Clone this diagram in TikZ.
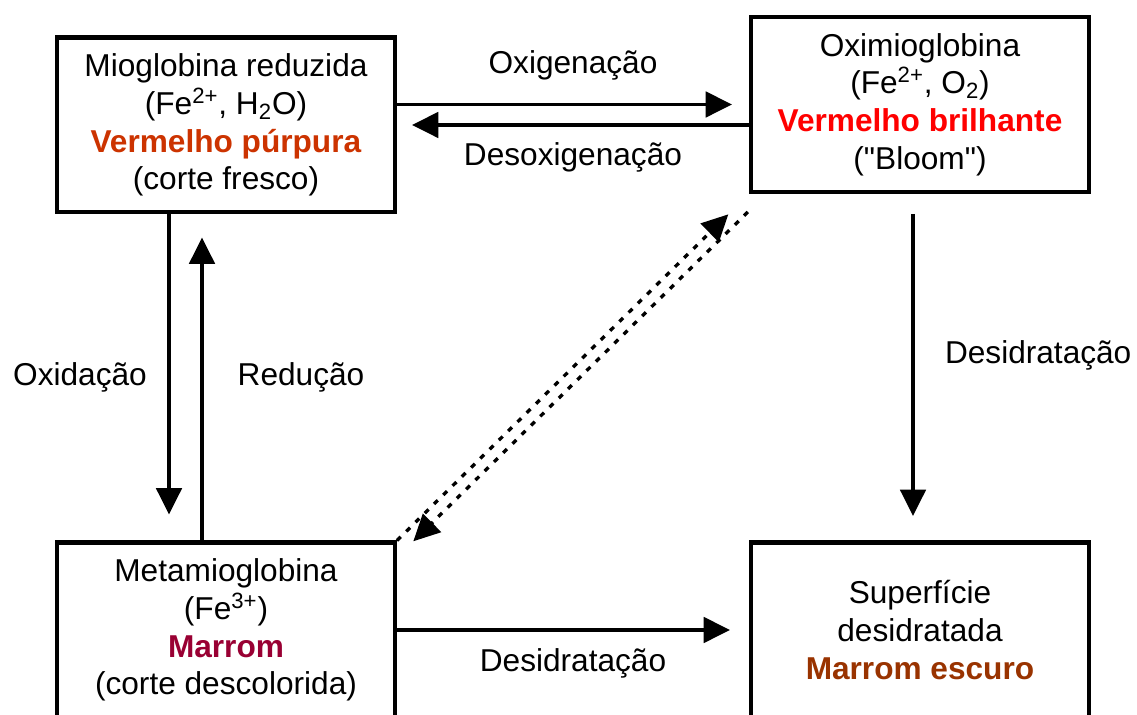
\documentclass[tikz,border=0pt]{standalone}
\usepackage{fontspec}
\setmainfont{Liberation Sans}
\usetikzlibrary{calc, arrows.meta}
\definecolor{purpura}{HTML}{CC3300}
\definecolor{brilhante}{HTML}{FF0000}
\definecolor{marrom}{HTML}{990033}
\definecolor{escuro}{HTML}{993300}
\tikzset{
x=0.02cm, y=-0.02cm, % one unit is one pixel of the sketch
>={Triangle[length=15pt, width=14.5pt]}, % solid triangle heads
every node/.style={font=\fontsize{18}{21.5}\selectfont},
estado/.style={draw, line width=2.3pt, minimum width=6.76cm, minimum height=3.5cm, align=center, inner sep=0pt}, % the four boxes
seta/.style={->, line width=1.9pt}, % plain arrows
pontos/.style={->, line width=1.9pt, dash pattern=on 3pt off 4.4pt}, % dotted arrows
}

\begin{document}
\begin{tikzpicture}
                \useasboundingbox (0,0) rectangle (1137,715);
                \clip (0,0) rectangle (1137,715);

                \node[estado] (mio) at (226,125) {Mioglobina reduzida\\(Fe\textsuperscript{2+}, H\textsubscript{2}O)\\\textcolor{purpura}{\textbf{Vermelho púrpura}}\\(corte fresco)};
                \node[estado] (oxi) at (920,104.5) {Oximioglobina\\(Fe\textsuperscript{2+}, O\textsubscript{2})\\\textcolor{brilhante}{\textbf{Vermelho brilhante}}\\(\textquotedbl{}Bloom\textquotedbl{})};
                \node[estado] (meta) at (226,630) {Metamioglobina\\(Fe\textsuperscript{3+})\\\textcolor{marrom}{\textbf{Marrom}}\\(corte descolorida)};
                \node[estado] (sup) at (920,630) {Superfície\\desidratada\\\textcolor{escuro}{\textbf{Marrom escuro}}};

                \draw[seta, shorten >=0.34cm] (mio.east |- oxi.west) -- node[yshift=0.79cm]{Oxigenação} (oxi.west);
                \draw[seta, shorten >=0.3cm] (oxi.west |- mio.east) -- node[yshift=-0.64cm]{Desoxigenação} (mio.east);
                \draw[seta, shorten >=0.52cm] ($(mio.south)+(-57,0)$) -- node[xshift=-1.78cm]{Oxidação} ($(meta.north)+(-57,0)$);
                \draw[seta, shorten >=0.46cm] ($(meta.north)+(-24,0)$) -- node[xshift=1.98cm]{Redução} ($(mio.south)+(-24,0)$);
                \draw[seta, shorten <=0.4cm, shorten >=0.49cm] ($(oxi.south)+(-7,0)$) -- node[pos=0.465, anchor=west, xshift=0.49cm]{Desidratação} ($(sup.north)+(-7,0)$);
                \draw[seta, shorten >=0.38cm] (meta.east) -- node[yshift=-0.66cm]{Desidratação} (sup.west);

                \draw[pontos, shorten >=0.58cm] (meta.north east) -- (oxi.south west);
                \draw[pontos, shorten <=0.27cm, shorten >=0.22cm] ($(oxi.south west)+(8.5,8.5)$) -- ($(meta.north east)+(8.5,8.5)$);
            \end{tikzpicture}
\end{document}
